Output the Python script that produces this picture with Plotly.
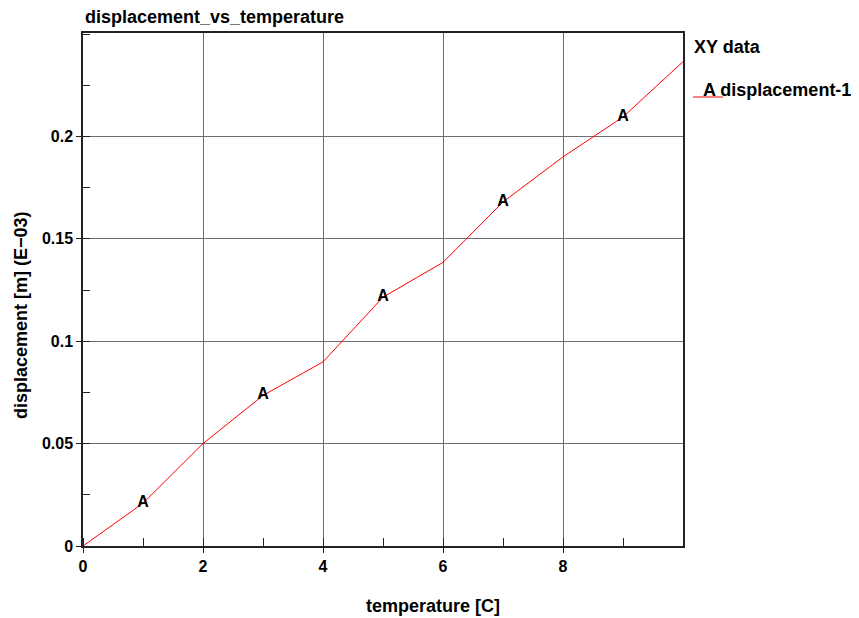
import plotly.graph_objects as go

temperature = [0, 1, 2, 3, 4, 5, 6, 7, 8, 9, 10]
displacement = [0.0, 0.0209, 0.0500, 0.0735, 0.0899, 0.1215, 0.1385, 0.1680, 0.1900, 0.2095, 0.2365]
marker_x = [1, 3, 5, 7, 9]
marker_label = "A"
series_name = "displacement-1"
x_ticks = [0, 2, 4, 6, 8]
y_ticks = [0, 0.05, 0.1, 0.15, 0.2]
y_tick_text = ["0", "0.05", "0.1", "0.15", "0.2"]

marker_y = [displacement[temperature.index(x)] for x in marker_x]

FONT = "Liberation Sans"
BOLD = dict(family=FONT, color="black", weight="bold")

fig = go.Figure()
fig.add_trace(go.Scatter(x=temperature, y=displacement, mode="lines",
                         line=dict(color="#ff0000", width=1), showlegend=False,
                         hoverinfo="skip"))
fig.add_trace(go.Scatter(x=marker_x, y=marker_y, mode="text",
                         text=[marker_label] * len(marker_x),
                         textposition="middle center",
                         textfont=dict(size=16, **BOLD),
                         showlegend=False))

axis_common = dict(showline=True, linecolor="#222", linewidth=1.5, mirror=True,
                   showgrid=True, gridcolor="#6e6e6e", gridwidth=1, zeroline=False,
                   ticks="outside", ticklen=5, tickcolor="#222", automargin=False,
                   tickfont=dict(size=16, **BOLD))

fig.update_xaxes(range=[0, 10], tickvals=x_ticks, ticktext=[str(v) for v in x_ticks],
                 minor=dict(ticks="inside", dtick=1, ticklen=8, tickcolor="#222", showgrid=False),
                 **axis_common)
fig.update_yaxes(range=[0, 0.2505], tickvals=y_ticks, ticktext=y_tick_text,
                 minor=dict(ticks="inside", dtick=0.025, tick0=0, ticklen=7, tickcolor="#222", showgrid=False),
                 **axis_common)

# plot area in screen pixels: left 83, top 33, width 600, height 513 (page body offset 8px)
def px(x):
    return (x - 83) / 600

def py(y):
    return (546 - y) / 513

fig.update_layout(
    width=859, height=618,
    margin=dict(l=75, r=184, t=25, b=80),
    paper_bgcolor="white", plot_bgcolor="white",
    annotations=[
        dict(text="displacement_vs_temperature", xref="paper", yref="paper",
             x=px(83), y=py(17), xanchor="left", yanchor="middle", showarrow=False,
             font=dict(size=18, **BOLD)),
        dict(text="temperature [C]", xref="paper", yref="paper",
             x=px(433), y=py(606), xanchor="center", yanchor="middle", showarrow=False,
             font=dict(size=18, **BOLD)),
        dict(text="displacement [m] (E\u221203)", xref="paper", yref="paper",
             x=px(21), y=py(315), xanchor="center", yanchor="middle", showarrow=False,
             textangle=-90, font=dict(size=18, **BOLD)),
        dict(text="XY data", xref="paper", yref="paper", x=px(692), y=py(47),
             xanchor="left", yanchor="middle", showarrow=False,
             font=dict(size=18, **BOLD)),
        dict(text=marker_label + " " + series_name, xref="paper", yref="paper",
             x=px(701), y=py(90), xanchor="left", yanchor="middle", showarrow=False,
             font=dict(size=18, **BOLD)),
    ],
    shapes=[dict(type="line", xref="paper", yref="paper",
                 x0=px(693), x1=px(723), y0=py(97), y1=py(97),
                 line=dict(color="#ff0000", width=1))],
    showlegend=False,
)

fig.write_html("out.html")
